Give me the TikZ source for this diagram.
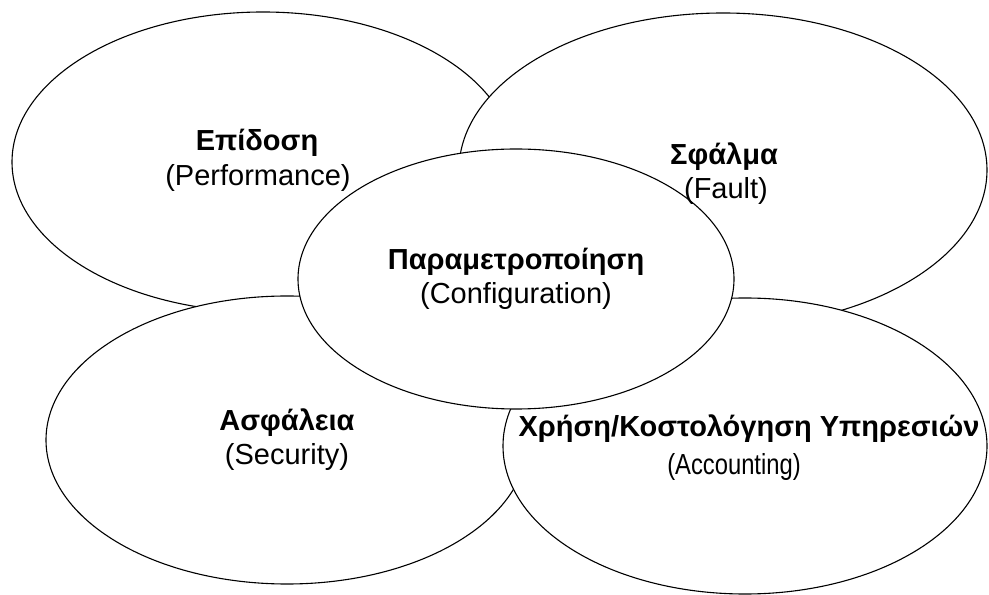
\documentclass[tikz,border=0pt]{standalone}
\usepackage{fontspec}
\setmainfont{Liberation Sans}
\usetikzlibrary{shapes.geometric}
\begin{document}
\begin{tikzpicture}[x=1pt,y=1pt,
  area/.style={ellipse,draw=black,fill=white,line width=1.1pt,inner sep=0pt},
  ttl/.style={anchor=base,inner sep=0pt,font=\fontsize{29}{35}\selectfont\bfseries},
  sub/.style={anchor=base,inner sep=0pt,font=\fontsize{29}{35}\selectfont}]
\useasboundingbox (0,0) rectangle (989,595);
\node[area,minimum width=502pt,minimum height=300pt] (perf) at (263,433) {};
\node[area,minimum width=528pt,minimum height=314pt] (fault) at (723,425) {};
\node[area,minimum width=482pt,minimum height=288pt] (sec) at (287,155) {};
\node[area,minimum width=484pt,minimum height=296pt] (acc) at (745,149) {};
\node[area,minimum width=436pt,minimum height=260pt] (conf) at (516,316) {};
\node[ttl] (perfT) at (257,444) {Επίδοση};
\node[sub] (perfS) at (258,409) {(Performance)};
\node[ttl] (faultT) at (724,430) {Σφάλμα};
\node[sub] (faultS) at (726,396) {(Fault)};
\node[ttl] (confT) at (516,325) {Παραμετροποίηση};
\node[sub] (confS) at (516,291) {(Configuration)};
\node[ttl] (secT) at (287,164) {Ασφάλεια};
\node[sub] (secS) at (287,130) {(Security)};
\node[ttl] (accT) at (749,158) {Χρήση/Κοστολόγηση Υπηρεσιών};
\node[sub] (accS) at (734,120) {\scalebox{0.82}[1]{(Accounting)}};
\end{tikzpicture}
\end{document}
